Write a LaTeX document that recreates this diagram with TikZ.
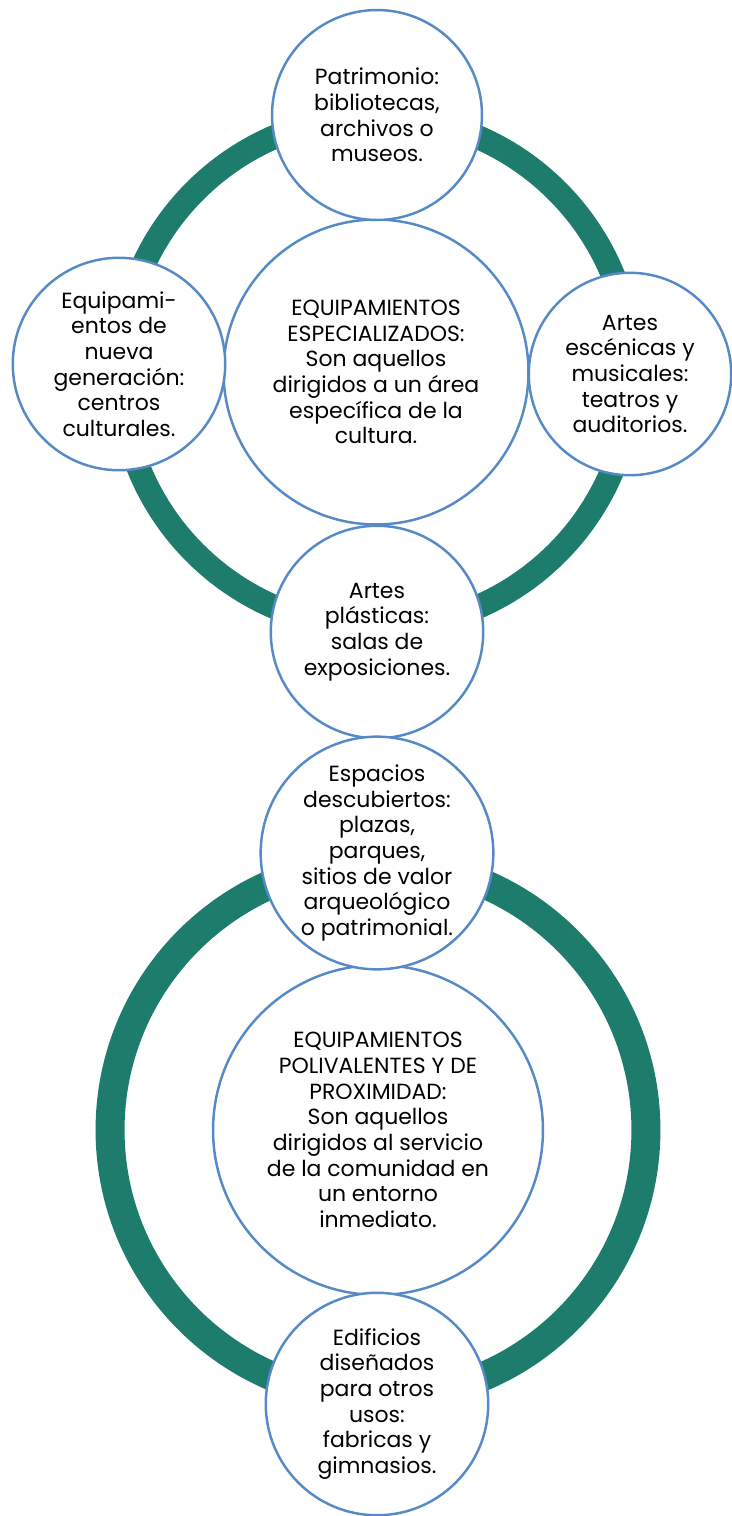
\documentclass[tikz,border=0pt]{standalone}
\usepackage{fontspec}
\setmainfont{Poppins}
\usepackage{tikz}
\definecolor{ringteal}{RGB}{30,124,108}
\definecolor{rimblue}{RGB}{86,138,198}

\begin{document}
\begin{tikzpicture}[x=0.02cm,y=-0.02cm,
	ring/.style={draw=ringteal,line width=0.48cm},
	bubble/.style={circle,draw=rimblue,line width=1.4pt,fill=white,inner sep=0pt,
		align=center,font=\fontsize{12.5}{14.6}\selectfont},
	hub/.style={bubble,minimum size=6.1cm},
	spoke/.style={bubble,minimum size=4.2cm}]
	\useasboundingbox (0,0) rectangle (732,1516);
	
	%rings
	\coordinate (hubA) at (376,372);
	\coordinate (hubB) at (378,1130);
	\draw[ring] (hubA) circle[radius=5.12cm];
	\draw[ring,line width=0.58cm] (hubB) circle[radius=5.36cm];
	
	%specialized
	\node[hub] (espec) at (hubA) {EQUIPAMIENTOS\\ESPECIALIZADOS:\\Son aquellos\\dirigidos a un área\\específica de la\\cultura.};
	\node[spoke] (patri) at (377,115) {Patrimonio:\\bibliotecas,\\archivos o\\museos.};
	\node[spoke,minimum size=4.05cm] (esce) at (630,374) {Artes\\escénicas y\\musicales:\\teatros y\\auditorios.};
	\node[spoke,minimum size=4.25cm] (plast) at (377,632) {Artes\\plásticas:\\salas de\\exposiciones.};
	\node[spoke,minimum size=4.25cm] (nueva) at (119,364) {Equipami-\\entos de\\nueva\\generación:\\centros\\culturales.};
	
	%polyvalent
	\node[hub,minimum size=6.6cm] (poli) at (hubB) {EQUIPAMIENTOS\\POLIVALENTES Y DE\\PROXIMIDAD:\\Son aquellos\\dirigidos al servicio\\de la comunidad en\\un entorno\\inmediato.};
	\node[spoke,minimum size=4.5cm] (abier) at (377,853) {Espacios\\descubiertos:\\plazas,\\parques,\\sitios de valor\\arqueológico\\o patrimonial.};
	\node[spoke,minimum size=4.45cm] (edif) at (377,1404) {Edificios\\diseñados\\para otros\\usos:\\fabricas y\\gimnasios.};
\end{tikzpicture}
\end{document}
